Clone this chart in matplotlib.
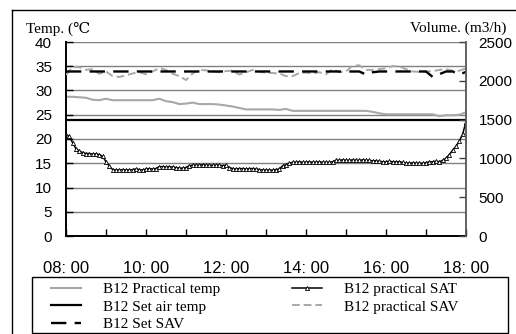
import numpy as np
import matplotlib
matplotlib.use('Agg')
import matplotlib.pyplot as plt
from matplotlib.patches import Rectangle
from matplotlib.lines import Line2D

# B12 practical SAT, 5-minute samples 08:00 -> 18:00 (left axis, deg C)
sat_practical = [
    20.8, 20.6, 19.2, 18.0, 17.5, 17.2, 17.0, 17.0, 16.9, 16.9, 16.8, 16.4,  # 08
    15.3, 14.4, 13.7, 13.6, 13.6, 13.7, 13.6, 13.6, 13.7, 13.8, 13.7, 13.6,  # 09
    13.8, 13.9, 13.8, 13.9, 14.3, 14.3, 14.2, 14.3, 14.2, 14.1, 14.0, 14.0,  # 10
    14.1, 14.5, 14.6, 14.6, 14.6, 14.7, 14.6, 14.6, 14.6, 14.6, 14.6, 14.5,  # 11
    14.6, 14.1, 13.9, 13.8, 13.9, 13.9, 13.8, 13.9, 13.9, 13.8, 13.7, 13.6,  # 12
    13.6, 13.6, 13.6, 13.7, 13.8, 14.5, 14.7, 15.0, 15.2, 15.2, 15.3, 15.2,  # 13
    15.2, 15.3, 15.2, 15.2, 15.3, 15.2, 15.2, 15.2, 15.3, 15.6, 15.6, 15.7,  # 14
    15.6, 15.6, 15.7, 15.6, 15.6, 15.7, 15.6, 15.6, 15.5, 15.5, 15.4, 15.3,  # 15
    15.3, 15.4, 15.3, 15.3, 15.3, 15.2, 15.0, 15.0, 15.1, 15.0, 15.0, 15.0,  # 16
    15.1, 15.3, 15.3, 15.4, 15.3, 15.6, 16.0, 16.8, 17.7, 18.5, 19.6, 21.0,  # 17
    23.6,                                                                    # 18:00
]

# 10-minute samples 08:00 -> 18:00
temp_practical = [
    28.7, 28.7, 28.6, 28.5, 28.1, 28.0,
    28.3, 28.0, 28.0, 28.0, 28.0, 28.0,
    28.0, 28.0, 28.3, 27.8, 27.6, 27.2,
    27.3, 27.5, 27.2, 27.2, 27.2, 27.1,
    26.9, 26.7, 26.4, 26.1, 26.1, 26.1,
    26.1, 26.1, 26.0, 26.2, 25.8, 25.8,
    25.8, 25.8, 25.8, 25.8, 25.8, 25.8,
    25.8, 25.8, 25.8, 25.8, 25.6, 25.3,
    25.1, 25.1, 25.1, 25.1, 25.1, 25.1,
    25.1, 25.1, 24.7, 24.9, 24.9, 25.0,
    25.5,
]
sav_practical = [
    2075, 2180, 2175, 2140, 2150, 2090,
    2120, 2060, 2050, 2070, 2095, 2110,
    2085, 2120, 2165, 2140, 2090, 2060,
    2010, 2095, 2140, 2135, 2120, 2110,
    2125, 2130, 2080, 2110, 2140, 2115,
    2105, 2100, 2095, 2060, 2060, 2100,
    2105, 2095, 2110, 2085, 2150, 2110,
    2120, 2195, 2200, 2140, 2140, 2150,
    2160, 2190, 2185, 2150, 2120, 2115,
    2120, 2125, 2140, 2150, 2130, 2130,
    2160,
]
sav_set = [
    2120, 2120, 2120, 2120, 2120, 2120,
    2120, 2120, 2120, 2120, 2120, 2120,
    2120, 2120, 2120, 2120, 2120, 2120,
    2120, 2120, 2120, 2120, 2120, 2120,
    2120, 2120, 2120, 2120, 2120, 2120,
    2120, 2120, 2120, 2120, 2120, 2120,
    2120, 2120, 2120, 2120, 2120, 2120,
    2120, 2120, 2120, 2080, 2110, 2120,
    2120, 2120, 2120, 2120, 2120, 2120,
    2120, 2050, 2085, 2120, 2120, 2080,
    2115,
]
temp_set = 24.0

hour_ticks = [8, 10, 12, 14, 16, 18]
hour_labels = ['08: 00', '10: 00', '12: 00', '14: 00', '16: 00', '18: 00']
minor_hours = [9, 11, 13, 15, 17]
temp_ticks = [0, 5, 10, 15, 20, 25, 30, 35, 40]
vol_ticks = [0, 500, 1000, 1500, 2000, 2500]

t5 = 8 + np.arange(len(sat_practical)) / 12
t10 = 8 + np.arange(len(temp_practical)) / 6

serif = ['Liberation Serif', 'DejaVu Serif', 'Noto Sans CJK JP']
sans = 'Liberation Sans'
W, H = 516, 334

fig = plt.figure(figsize=(W / 100, H / 100), dpi=100)
ax = fig.add_axes([66 / W, 1 - 236 / H, 400 / W, 194 / H])
ax2 = ax.twinx()

grid_c = '#808080'
ax.set_xlim(8, 18)
ax.set_ylim(0, 40)
ax2.set_ylim(0, 2500)
ax.set_yticks(temp_ticks)
ax2.set_yticks(vol_ticks)
ax.set_xticks(hour_ticks)
ax.set_xticklabels(hour_labels, family=sans, fontsize=12)
ax.set_xticks(minor_hours, minor=True)
ax.yaxis.grid(True, color=grid_c, lw=1)
ax.set_axisbelow(True)

for lab in ax.get_yticklabels() + ax2.get_yticklabels():
    lab.set_family(sans)
    lab.set_fontsize(11)

ax.tick_params(axis='x', which='both', direction='in', length=5, pad=18, width=1)
ax.tick_params(axis='y', direction='in', length=5, pad=10, width=1)
ax2.tick_params(axis='y', direction='in', length=5, pad=9, width=1, color='#444444')

for s in ['top', 'right']:
    ax.spines[s].set_visible(False)
ax.spines['left'].set_linewidth(1.4)
ax.spines['bottom'].set_linewidth(1.4)
for s in ['top', 'left', 'bottom']:
    ax2.spines[s].set_visible(False)
ax2.spines['right'].set_color('#555555')
ax2.spines['right'].set_linewidth(1.3)

l_temp, = ax.plot(t10, temp_practical, color='#a8a8a8', lw=1.5)
l_set = ax.axhline(temp_set, color='black', lw=1.6)
l_sat, = ax.plot(t5, sat_practical, color='black', lw=1.1, marker='^', ms=3,
                 mfc='white', mec='black', mew=0.6)
l_savp, = ax2.plot(t10, sav_practical, color='#a8a8a8', lw=1.4, dashes=(4, 2))
l_savs, = ax2.plot(t10, sav_set, color='black', lw=1.7, dashes=(6.5, 3.5))

fig.text(26 / W, 1 - 29 / H, 'Temp. (℃', family=serif, fontsize=11, va='center')
fig.text(506 / W, 1 - 28 / H, 'Volume. (m3/h)', family=serif, fontsize=11,
         va='center', ha='right')

handles = [l_temp, l_set, l_savs, l_sat, l_savp]
labels = ['B12 Practical temp', 'B12 Set air temp', 'B12 Set SAV',
          'B12 practical SAT', 'B12 practical SAV']
fig.legend(handles, labels, ncol=2, loc='upper left',
           bbox_to_anchor=(43 / W, 1 - 275 / H), frameon=False, borderpad=0,
           prop={'family': serif, 'size': 11}, handlelength=2.0,
           handletextpad=1.4, columnspacing=4.7, labelspacing=0.24)

fig.add_artist(Rectangle((32 / W, 1 / H), 476 / W, 56 / H, transform=fig.transFigure,
                         fill=False, ec='black', lw=1))
fig.add_artist(Line2D([12 / W, 1], [1 - 10 / H, 1 - 10 / H], color='black', lw=1))
fig.add_artist(Line2D([12 / W, 12 / W], [0, 1 - 10 / H], color='black', lw=1))

fig.savefig('out.png', dpi=100)
